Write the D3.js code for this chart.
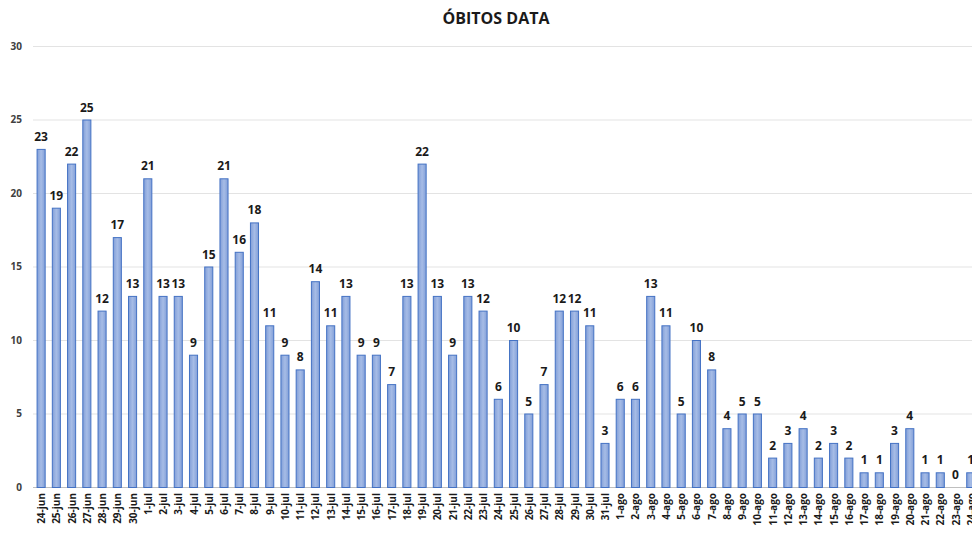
<!DOCTYPE html>
<html>
<head>
<meta charset="utf-8">
<script src="https://cdn.jsdelivr.net/npm/d3@7"></script>
<style>
  body { margin: 0; background: #fff; }
  text { font-family: "Open Sans", "Liberation Sans", sans-serif; }
</style>
</head>
<body>
<div id="chart"></div>
<script>
// chart data
var days = ["24-jun","25-jun","26-jun","27-jun","28-jun","29-jun","30-jun",
  "1-jul","2-jul","3-jul","4-jul","5-jul","6-jul","7-jul","8-jul","9-jul","10-jul",
  "11-jul","12-jul","13-jul","14-jul","15-jul","16-jul","17-jul","18-jul","19-jul","20-jul",
  "21-jul","22-jul","23-jul","24-jul","25-jul","26-jul","27-jul","28-jul","29-jul","30-jul","31-jul",
  "1-ago","2-ago","3-ago","4-ago","5-ago","6-ago","7-ago","8-ago","9-ago","10-ago",
  "11-ago","12-ago","13-ago","14-ago","15-ago","16-ago","17-ago","18-ago","19-ago","20-ago",
  "21-ago","22-ago","23-ago","24-ago"];
var deaths = [23,19,22,25,12,17,13,
  21,13,13,9,15,21,16,18,11,9,8,14,11,13,9,9,7,13,22,13,9,13,12,6,10,5,7,12,12,11,3,
  6,6,13,11,5,10,8,4,5,5,2,3,4,2,3,2,1,1,3,4,1,1,0,1];
var yTicks = [0,5,10,15,20,25,30];
var title = "ÓBITOS DATA";

var W = 972, H = 534;
var margin = {top: 46, left: 33, bottom: 47};
var plotW = 62 * 15.24;

var svg = d3.select("#chart").append("svg")
  .attr("width", W)
  .attr("height", H);

// soft gradient like the original bars
var defs = svg.append("defs");
var grad = defs.append("linearGradient").attr("id", "barFill")
  .attr("x1", 0).attr("x2", 1).attr("y1", 0).attr("y2", 0);
grad.append("stop").attr("offset", "0%").attr("stop-color", "#829fd8");
grad.append("stop").attr("offset", "50%").attr("stop-color", "#a6bce6");
grad.append("stop").attr("offset", "100%").attr("stop-color", "#829fd8");

var x = d3.scaleBand()
  .domain(days)
  .range([margin.left, margin.left + plotW])
  .paddingInner(0.47)
  .paddingOuter(0.235);

var y = d3.scaleLinear()
  .domain([0, 30])
  .range([H - margin.bottom, margin.top]);

// title
svg.append("text")
  .attr("x", 496)
  .attr("y", 24)
  .attr("text-anchor", "middle")
  .style("font-size", "16px")
  .style("font-weight", "bold")
  .attr("fill", "#1a1a1a")
  .text(title);

// gridlines
svg.append("g").selectAll("line")
  .data(yTicks)
  .enter().append("line")
  .attr("x1", margin.left)
  .attr("x2", W)
  .attr("y1", function (d) { return y(d) + 0.5; })
  .attr("y2", function (d) { return y(d) + 0.5; })
  .style("stroke", function (d) { return d === 0 ? "#bfbfbf" : "#e3e3e3"; })
  .style("stroke-width", 1);

// y axis labels
svg.append("g").selectAll("text")
  .data(yTicks)
  .enter().append("text")
  .attr("x", 22)
  .attr("y", function (d) { return y(d); })
  .attr("dy", "0.35em")
  .attr("text-anchor", "end")
  .style("font-size", "10px")
  .style("font-weight", "bold")
  .attr("fill", "#404040")
  .text(function (d) { return d; });

// bars
svg.append("g").selectAll("rect")
  .data(deaths)
  .enter().append("rect")
  .attr("x", function (d, i) { return x(days[i]) + 0.5; })
  .attr("y", function (d) { return y(d) + 0.5; })
  .attr("width", x.bandwidth())
  .attr("height", function (d) { return y(0) - y(d); })
  .style("fill", "url(#barFill)")
  .style("stroke", "#4472c4")
  .style("stroke-width", 1);

// value labels
svg.append("g").selectAll("text")
  .data(deaths)
  .enter().append("text")
  .attr("x", function (d, i) { return x(days[i]) + x.bandwidth() / 2 + 0.5; })
  .attr("y", function (d) { return y(d) - 8; })
  .attr("text-anchor", "middle")
  .style("font-size", "12px")
  .style("font-weight", "bold")
  .attr("fill", "#1a1a1a")
  .text(function (d) { return d; });

// x axis labels (rotated)
svg.append("g").selectAll("text")
  .data(days)
  .enter().append("text")
  .attr("transform", function (d) {
    return "translate(" + (x(d) + x.bandwidth() / 2 + 1) + "," + (y(0) + 6) + ") rotate(-90)";
  })
  .attr("dy", "0.35em")
  .attr("text-anchor", "end")
  .style("font-size", "10px")
  .style("font-weight", "bold")
  .attr("fill", "#1a1a1a")
  .text(function (d) { return d; });
</script>
</body>
</html>
